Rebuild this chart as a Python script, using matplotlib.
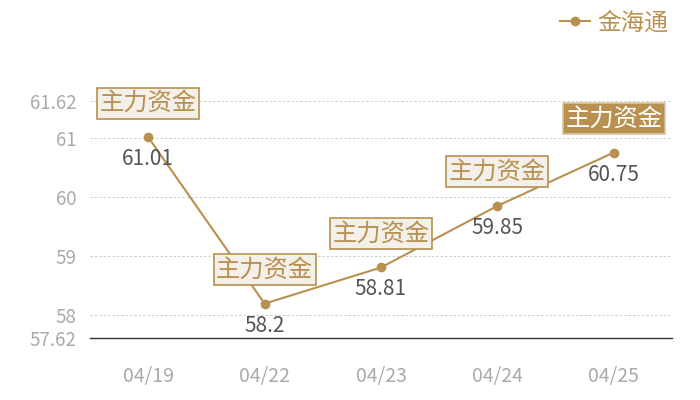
import matplotlib
matplotlib.use("Agg")
import matplotlib.pyplot as plt
from matplotlib.lines import Line2D

plt.rcParams['font.family'] = ['Noto Sans CJK SC', 'DejaVu Sans']
plt.rcParams['font.weight'] = 'light'

dates = ["04/19", "04/22", "04/23", "04/24", "04/25"]
values = [61.01, 58.2, 58.81, 59.85, 60.75]
yticks = [57.62, 58, 59, 60, 61, 61.62]
series_name = "金海通"
tag_text = "主力资金"

gold = "#b8904f"
fig = plt.figure(figsize=(7, 4), dpi=100)
ax = fig.add_axes([0.1286, 0.155, 0.8314, 0.5925])
x = list(range(len(dates)))
ax.plot(x, values, color=gold, lw=1.5, marker='o', ms=6, zorder=3)
ax.set_xlim(-0.5, len(dates) - 0.5)
ax.set_ylim(yticks[0], yticks[-1])
ax.set_yticks(yticks)
ax.set_yticklabels([f"{t:g}" for t in yticks])
ax.set_xticks(x)
ax.set_xticklabels(dates)
ax.tick_params(axis='both', length=0, colors="#aaaaaa")
ax.tick_params(axis='y', pad=10, labelsize=13.5)
ax.tick_params(axis='x', pad=20, labelsize=14)
for s in ['top', 'right', 'left']:
    ax.spines[s].set_visible(False)
ax.spines['bottom'].set_color('#333333')
ax.spines['bottom'].set_linewidth(1)
for t in yticks[1:]:
    ax.axhline(t, color='#cccccc', lw=0.7, ls=(0, (2.5, 2)), zorder=1)

for i, v in enumerate(values):
    ax.annotate(f"{v:g}", (i, v), xytext=(0, -22), textcoords='offset pixels',
                ha='center', va='center', fontsize=15, color='#555555', zorder=4)
    last = i == len(values) - 1
    ax.annotate(tag_text, (i, v), xytext=(0, 34), textcoords='offset pixels',
                ha='center', va='center', fontsize=17.5,
                color='white' if last else gold, zorder=5, annotation_clip=False,
                bbox=dict(boxstyle='square,pad=0.1',
                          fc=gold if last else '#f3efe9',
                          ec='#d8c3a0' if last else gold, lw=1.2))

h = Line2D([], [], color=gold, lw=1.5, marker='o', ms=6)
fig.legend([h], [series_name], loc='upper right', bbox_to_anchor=(0.985, 1.025),
           frameon=False, fontsize=17, labelcolor=gold, handlelength=1.3,
           handletextpad=0.3)

fig.savefig("out.png", dpi=100)
